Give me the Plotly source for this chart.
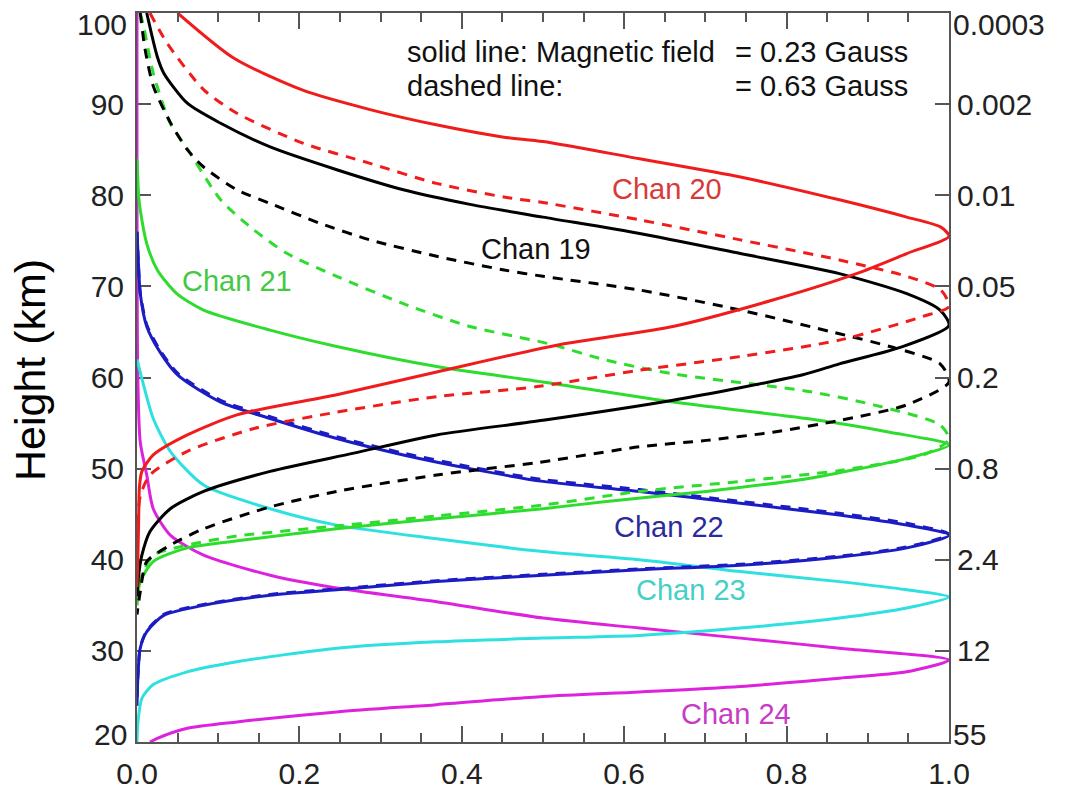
import plotly.graph_objects as go

# ---------------- data ----------------
# Chan 20, solid (0.23 Gauss)
ch20_s_h = [100, 95, 91.5, 89.4, 87.7, 86.4, 85.9, 84.0, 82.0, 79.5, 77.6, 76.5, 75.5, 73.6, 71.4, 68.5,
            65.6, 63.6, 60.6, 58.1, 55.9, 53.7, 51.5, 49.7, 48, 44, 40, 37]
ch20_s_x = [0.05, 0.12, 0.205, 0.287, 0.37, 0.45, 0.50, 0.619, 0.743, 0.865, 0.948, 0.99, 1.0, 0.948, 0.886, 0.783,
            0.66, 0.52, 0.369, 0.246, 0.123, 0.062, 0.02, 0.006, 0.003, 0.002, 0.001, 0.0]
# Chan 20, dashed (0.63 Gauss)
ch20_d_h = [100, 96.7, 91.6, 89.0, 85.7, 83.5, 81.3, 79.8, 79.2, 77.3, 75.1, 72.9, 71.1, 69.6, 67.8, 66.7,
            64.1, 62.3, 60.8, 59.0, 57.9, 56.2, 54.4, 51.9, 49.3, 47, 44, 40]
ch20_d_x = [0.016, 0.037, 0.082, 0.123, 0.205, 0.287, 0.369, 0.452, 0.50, 0.619, 0.743, 0.865, 0.948, 0.99, 1.0, 0.968,
            0.865, 0.743, 0.619, 0.493, 0.369, 0.246, 0.144, 0.062, 0.016, 0.004, 0.001, 0.0]
# Chan 19, solid
ch19_s_h = [100, 95.2, 93.4, 90.1, 87.9, 85.3, 82.8, 80.6, 79.0, 77.6, 75.8, 73.6, 71.4, 69.2, 67.4, 65.7,
            63.3, 61.5, 60.3, 57.5, 55.3, 53.7, 51.7, 49.7, 47.5, 45.6, 43.1, 40.5, 38.3, 36]
ch19_s_x = [0.012, 0.025, 0.033, 0.062, 0.103, 0.164, 0.246, 0.328, 0.41, 0.50, 0.619, 0.743, 0.865, 0.948, 0.989, 1.0,
            0.94, 0.865, 0.82, 0.66, 0.50, 0.369, 0.267, 0.164, 0.082, 0.041, 0.016, 0.006, 0.002, 0.0]
# Chan 19, dashed
ch19_d_h = [100, 96, 92, 88, 85.0, 83.1, 80.6, 79.1, 76.9, 75.1, 73.3, 71.8, 71.1, 69.6, 67.4, 64.8, 63.4,
            61.5, 59.5, 57.0, 55.3, 54.0, 53.1, 52.4, 50.7, 49.3, 47.5, 45.8, 43.4, 41.6, 39.8, 36.5, 34]
ch19_d_x = [0.004, 0.01, 0.02, 0.041, 0.062, 0.082, 0.123, 0.164, 0.226, 0.287, 0.369, 0.452, 0.50, 0.619, 0.743, 0.865, 0.927,
            0.989, 1.0, 0.948, 0.866, 0.783, 0.701, 0.619, 0.496, 0.369, 0.246, 0.164, 0.082, 0.041, 0.012, 0.004, 0.0]
# Chan 21, solid
ch21_s_h = [84, 80, 78.4, 74.7, 71.8, 69.2, 67.4, 65.2, 63.4, 61.2, 59.5, 57.3, 55.5, 54.0, 52.6, 51.1,
            48.9, 47.5, 46.4, 45.6, 44.5, 43.4, 42.3, 41.3, 39.8, 37.6, 35]
ch21_s_x = [0.0, 0.002, 0.004, 0.012, 0.025, 0.049, 0.082, 0.164, 0.246, 0.369, 0.50, 0.66, 0.825, 0.927, 1.0, 0.947,
            0.825, 0.701, 0.578, 0.50, 0.369, 0.246, 0.144, 0.062, 0.02, 0.004, 0.0]
# Chan 21, dashed
ch21_d_h = [100, 98.6, 93.4, 87.9, 85.1, 79.5, 76.2, 73.6, 71.1, 68.1, 65.6, 63.75, 61.9, 60.4, 58.5, 57.0,
            54.8, 53.2, 51.5, 49.8, 48.6, 47.5, 46.0, 44.8, 43.7, 42.6, 41.6, 40.5, 38.3, 36]
ch21_d_x = [0.004, 0.008, 0.02, 0.041, 0.062, 0.103, 0.144, 0.185, 0.246, 0.328, 0.41, 0.505, 0.578, 0.66, 0.825, 0.907,
            0.989, 1.0, 0.968, 0.866, 0.743, 0.619, 0.50, 0.369, 0.246, 0.123, 0.062, 0.02, 0.006, 0.0]
# Chan 22, solid
ch22_s_h = [76, 72, 69.2, 65.6, 62.7, 60.2, 57.3, 55.5, 53.3, 51.5, 50.0, 48.6, 47.5, 46.2, 44.9, 43.8, 42.7,
            41.3, 40.3, 39.4, 38.9, 38.3, 37.6, 36.7, 36.1, 35.0, 33.9, 32.1, 30.3, 27, 24]
ch22_s_x = [0.0, 0.002, 0.004, 0.012, 0.029, 0.051, 0.103, 0.164, 0.246, 0.328, 0.41, 0.50, 0.619, 0.743, 0.865, 0.948, 1.0,
            0.948, 0.866, 0.743, 0.619, 0.50, 0.369, 0.246, 0.164, 0.082, 0.033, 0.012, 0.004, 0.001, 0.0]
# Chan 22, dashed
ch22_d_h = [76, 72, 69.3, 65.8, 62.9, 60.4, 57.5, 55.7, 53.5, 51.7, 50.2, 48.8, 47.7, 46.4, 45.1, 44.0, 42.8,
            41.4, 40.4, 39.5, 39.0, 38.4, 37.7, 36.8, 36.2, 35.1, 34.0, 32.2, 30.4, 27, 24]
ch22_d_x = [0.0, 0.002, 0.004, 0.012, 0.029, 0.051, 0.103, 0.164, 0.246, 0.328, 0.41, 0.50, 0.619, 0.743, 0.865, 0.948, 1.0,
            0.948, 0.866, 0.743, 0.619, 0.50, 0.369, 0.246, 0.164, 0.082, 0.033, 0.012, 0.004, 0.001, 0.0]
# Chan 23
ch23_h = [62, 59.2, 55.5, 51.9, 48.2, 45.6, 43.8, 42.3, 40.9, 40.0, 38.7, 37.6, 36.7, 35.9,
          34.7, 33.6, 32.5, 31.7, 31.4, 31.0, 30.3, 28.8, 27.7, 26.3, 24.8, 22, 20]
ch23_x = [0.0, 0.008, 0.02, 0.041, 0.082, 0.164, 0.246, 0.369, 0.50, 0.619, 0.743, 0.865, 0.948, 1.0,
          0.948, 0.865, 0.743, 0.619, 0.50, 0.369, 0.246, 0.123, 0.062, 0.02, 0.006, 0.001, 0.0]
# Chan 24
ch24_h = [100, 60, 52.9, 49.3, 45.6, 42.7, 40.5, 38.3, 36.9, 35.4, 33.6, 32.5, 31.4, 30.3, 29.0,
          27.7, 27.0, 26.1, 25.5, 25.0, 24.1, 23.3, 22.2, 21.5, 20.4, 20.0]
ch24_x = [0.0, 0.001, 0.004, 0.012, 0.02, 0.041, 0.082, 0.164, 0.246, 0.369, 0.50, 0.619, 0.743, 0.865, 1.0,
          0.948, 0.865, 0.743, 0.619, 0.50, 0.369, 0.246, 0.123, 0.062, 0.025, 0.016]

height_ticks = [20, 30, 40, 50, 60, 70, 80, 90, 100]
height_labels = ["20", "30", "40", "50", "60", "70", "80", "90", "100"]
pressure_labels = ["55", "12", "2.4", "0.8", "0.2", "0.05", "0.01", "0.002", "0.0003"]

chan_names = ["Chan 20", "Chan 19", "Chan 21", "Chan 22", "Chan 23", "Chan 24"]
chan_label_x = [0.653, 0.491, 0.123, 0.655, 0.682, 0.738]
chan_label_h = [80.7, 74.1, 70.6, 43.6, 36.7, 23.1]

# ---------------- styles ----------------
RED, BLACK, GREEN, BLUE, CYAN, MAG = "#f01c1c", "#000000", "#2edc2e", "#1c1cc4", "#2ee0e0", "#dc22dc"
label_colors = ["#d83a3a", "#111111", "#44c844", "#2b2b9c", "#44d0c4", "#c63cc6"]
FONT = "Liberation Sans, Arial, sans-serif"
DASH = "10px,8px"
LW = 3
AX = "#555555"

fig = go.Figure()

def add(xs, hs, color, dash="solid"):
    fig.add_trace(go.Scatter(x=xs, y=hs, mode="lines",
                             line=dict(color=color, width=LW, dash=dash, shape="spline", smoothing=0.7),
                             showlegend=False, hoverinfo="skip"))

add(ch24_x, ch24_h, MAG)
add(ch23_x, ch23_h, CYAN)
add(ch22_d_x, ch22_d_h, BLUE, DASH)
add(ch22_s_x, ch22_s_h, BLUE)
add(ch21_d_x, ch21_d_h, GREEN, DASH)
add(ch21_s_x, ch21_s_h, GREEN)
add(ch19_d_x, ch19_d_h, BLACK, DASH)
add(ch19_s_x, ch19_s_h, BLACK)
add(ch20_d_x, ch20_d_h, RED, DASH)
add(ch20_s_x, ch20_s_h, RED)

# invisible helper so the right (pressure) axis is drawn
fig.add_trace(go.Scatter(x=[None], y=[None], yaxis="y2", mode="lines", showlegend=False, hoverinfo="skip"))

for name, lx, lh, c in zip(chan_names, chan_label_x, chan_label_h, label_colors):
    fig.add_annotation(x=lx, y=lh, xref="x", yref="y", text=name, showarrow=False,
                       font=dict(family=FONT, size=29, color=c), xanchor="center", yanchor="middle")

# field-strength note
note_font = dict(family=FONT, size=29, color="#111111")
fig.add_annotation(x=0.330, y=95.7, xref="x", yref="y", text="solid line: Magnetic field", showarrow=False,
                   font=note_font, xanchor="left", yanchor="middle")
fig.add_annotation(x=0.734, y=95.7, xref="x", yref="y", text="= 0.23 Gauss", showarrow=False,
                   font=note_font, xanchor="left", yanchor="middle")
fig.add_annotation(x=0.330, y=92.0, xref="x", yref="y", text="dashed line:", showarrow=False,
                   font=note_font, xanchor="left", yanchor="middle")
fig.add_annotation(x=0.734, y=92.0, xref="x", yref="y", text="= 0.63 Gauss", showarrow=False,
                   font=note_font, xanchor="left", yanchor="middle")

# end labels of the height axes, kept inside the frame as in the reference
tick_font = dict(family=FONT, size=30, color="#222222")
fig.add_annotation(x=0, y=height_ticks[-1], xref="x", yref="y", text=height_labels[-1], showarrow=False,
                   font=tick_font, xanchor="right", yanchor="middle", xshift=-8, yshift=-11)
fig.add_annotation(x=0, y=height_ticks[0], xref="x", yref="y", text=height_labels[0], showarrow=False,
                   font=tick_font, xanchor="right", yanchor="middle", xshift=-8, yshift=8)
fig.add_annotation(x=1, y=height_ticks[-1], xref="x", yref="y", text=pressure_labels[-1], showarrow=False,
                   font=tick_font, xanchor="left", yanchor="middle", xshift=2, yshift=-11)
fig.add_annotation(x=1, y=height_ticks[0], xref="x", yref="y", text=pressure_labels[0], showarrow=False,
                   font=tick_font, xanchor="left", yanchor="middle", xshift=2, yshift=8)

# y-axis title
fig.add_annotation(x=-0.132, y=0.51, xref="paper", yref="paper", text="Height (km)", showarrow=False,
                   textangle=-90, font=dict(family=FONT, size=43, color="#000000"),
                   xanchor="center", yanchor="middle")

inner_left = [t if 20 < v < 100 else "" for v, t in zip(height_ticks, height_labels)]
inner_right = [t if 20 < v < 100 else "" for v, t in zip(height_ticks, pressure_labels)]

fig.update_layout(
    width=1068, height=794,
    margin=dict(l=137, r=119, t=13, b=52, autoexpand=False),
    paper_bgcolor="white", plot_bgcolor="rgba(0,0,0,0)",
    showlegend=False,
    xaxis=dict(range=[0, 1], tickvals=[0, 0.2, 0.4, 0.6, 0.8, 1.0], tickformat=".1f",
               ticks="inside", ticklen=16, tickwidth=2, tickcolor=AX,
               minor=dict(dtick=0.05, ticks="inside", ticklen=9, tickwidth=2, tickcolor=AX),
               showline=True, linecolor=AX, linewidth=2, mirror="ticks",
               showgrid=False, zeroline=False, automargin=False,
               tickfont=tick_font, ticklabelstandoff=4),
    yaxis=dict(range=[20, 100], tickvals=height_ticks, ticktext=inner_left,
               ticks="inside", ticklen=14, tickwidth=2, tickcolor=AX,
               showline=True, linecolor=AX, linewidth=2, mirror=True,
               showgrid=False, zeroline=False, automargin=False, layer="below traces",
               tickfont=tick_font, ticklabelstandoff=5),
    yaxis2=dict(range=[20, 100], overlaying="y", side="right", anchor="x",
                tickvals=height_ticks, ticktext=inner_right,
                ticks="inside", ticklen=14, tickwidth=2, tickcolor=AX,
                showline=True, linecolor=AX, linewidth=2,
                showgrid=False, zeroline=False, automargin=False,
                tickfont=tick_font, ticklabelstandoff=0),
)

fig.write_html("out.html")
